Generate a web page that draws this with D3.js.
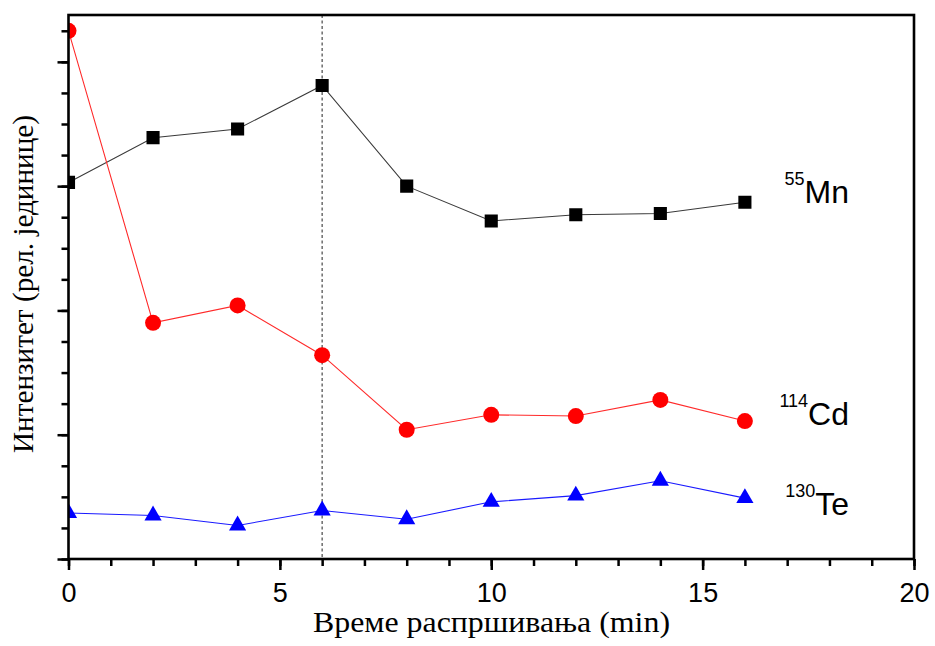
<!DOCTYPE html>
<html>
<head>
<meta charset="utf-8">
<script src="https://cdn.jsdelivr.net/npm/d3@7"></script>
<style>
  html, body { margin: 0; padding: 0; background: #fff; }
  svg { display: block; }
</style>
</head>
<body>
<svg id="chart" width="935" height="646"></svg>
<script>
// Sputtering time (min) and relative intensities of the three isotopes
const times = [0, 2, 4, 6, 8, 10, 12, 14, 16];
const mnValues = [3.03, 3.39, 3.46, 3.81, 3.00, 2.72, 2.77, 2.78, 2.87];
const cdValues = [4.25, 1.90, 2.04, 1.64, 1.04, 1.16, 1.15, 1.28, 1.11];
const teValues = [0.37, 0.35, 0.27, 0.39, 0.32, 0.46, 0.51, 0.63, 0.49];

const xTickLabels = [0, 5, 10, 15, 20];
const xMinorTicks = d3.range(0, 21, 1);
const yMajorTicks = [0, 1, 2, 3, 4];
const yMinorTicks = d3.range(0, 4.3, 0.25);
const markedTime = 6;

const xTitle = "Време распршивања (min)";
const yTitle = "Интензитет (рел. јединице)";

const series = [
  { mass: "55", name: "Mn", values: mnValues, color: "#000000", line: "#3a3a3a", symbol: d3.symbolSquare, size: 172, labelY: 203 },
  { mass: "114", name: "Cd", values: cdValues, color: "#ff0000", line: "#ff2a2a", symbol: d3.symbolCircle, size: 201, labelY: 425 },
  { mass: "130", name: "Te", values: teValues, color: "#0000ff", line: "#1a1aff", symbol: d3.symbolTriangle, size: 128, labelY: 515 }
];

const plotLeft = 68.5, plotRight = 914, plotTop = 15, plotBottom = 559;

const x = d3.scaleLinear().domain([0, 20]).range([plotLeft, plotRight]);
const y = d3.scaleLinear().domain([0, 4.377]).range([plotBottom, plotTop]);

const svg = d3.select("#chart");

// clip marks to the plotting frame
svg.append("defs").append("clipPath").attr("id", "plotClip")
  .append("rect").attr("x", plotLeft).attr("y", plotTop)
  .attr("width", plotRight - plotLeft).attr("height", plotBottom - plotTop);

// vertical dashed marker
svg.append("line")
  .attr("x1", x(markedTime)).attr("x2", x(markedTime))
  .attr("y1", plotTop).attr("y2", plotBottom)
  .attr("stroke", "#555").attr("stroke-width", 1.3)
  .attr("stroke-dasharray", "3,2.5");

const plot = svg.append("g").attr("clip-path", "url(#plotClip)");

const lineGen = d3.line().x((d, i) => x(times[i])).y(d => y(d));

series.forEach(s => {
  plot.append("path")
    .datum(s.values)
    .attr("fill", "none")
    .attr("stroke", s.line)
    .attr("stroke-width", 1.1)
    .attr("d", lineGen);
  plot.selectAll(null)
    .data(s.values)
    .join("path")
    .attr("transform", (d, i) => `translate(${x(times[i])},${y(d)})`)
    .attr("d", d3.symbol().type(s.symbol).size(s.size))
    .attr("fill", s.color);
});

// axes: minor ticks
svg.append("g")
  .attr("transform", `translate(0,${plotBottom})`)
  .call(d3.axisBottom(x).tickValues(xMinorTicks).tickSize(7).tickFormat(""))
  .call(g => g.select(".domain").remove())
  .call(g => g.selectAll("line").attr("stroke", "#000").attr("stroke-width", 2.5));

svg.append("g")
  .attr("transform", `translate(0,${plotBottom})`)
  .call(d3.axisBottom(x).tickValues(xTickLabels).tickSize(11).tickPadding(13).tickFormat(d3.format("d")))
  .call(g => g.select(".domain").remove())
  .call(g => g.selectAll("line").attr("stroke", "#000").attr("stroke-width", 2.5))
  .call(g => g.selectAll("text")
    .attr("font-family", "'Liberation Sans', Arial, sans-serif")
    .attr("font-size", 27).attr("fill", "#000"));

svg.append("g")
  .attr("transform", `translate(${plotLeft},0)`)
  .call(d3.axisLeft(y).tickValues(yMinorTicks).tickSize(7).tickFormat(""))
  .call(g => g.select(".domain").remove())
  .call(g => g.selectAll("line").attr("stroke", "#000").attr("stroke-width", 2.5));

svg.append("g")
  .attr("transform", `translate(${plotLeft},0)`)
  .call(d3.axisLeft(y).tickValues(yMajorTicks).tickSize(11).tickFormat(""))
  .call(g => g.select(".domain").remove())
  .call(g => g.selectAll("line").attr("stroke", "#000").attr("stroke-width", 2.5));

// frame
svg.append("rect")
  .attr("x", plotLeft).attr("y", plotTop)
  .attr("width", plotRight - plotLeft).attr("height", plotBottom - plotTop)
  .attr("fill", "none").attr("stroke", "#000").attr("stroke-width", 2.6);

// isotope labels
series.forEach(s => {
  const t = svg.append("text")
    .attr("x", 849).attr("y", s.labelY)
    .attr("text-anchor", "end")
    .attr("font-family", "'Liberation Sans', Arial, sans-serif")
    .attr("fill", "#000");
  t.append("tspan").attr("font-size", 18).attr("dy", -18).text(s.mass);
  t.append("tspan").attr("font-size", 32).attr("dy", 18).text(s.name);
});

// axis titles
svg.append("text")
  .attr("x", 491.5).attr("y", 632)
  .attr("text-anchor", "middle")
  .attr("font-family", "'Liberation Serif', 'Times New Roman', serif")
  .attr("font-size", 29).attr("fill", "#000")
  .attr("textLength", 357).attr("lengthAdjust", "spacingAndGlyphs")
  .text(xTitle);

svg.append("text")
  .attr("transform", "translate(33,284) rotate(-90)")
  .attr("text-anchor", "middle")
  .attr("font-family", "'Liberation Serif', 'Times New Roman', serif")
  .attr("font-size", 29).attr("fill", "#000")
  .attr("textLength", 338).attr("lengthAdjust", "spacingAndGlyphs")
  .text(yTitle);
</script>
</body>
</html>
